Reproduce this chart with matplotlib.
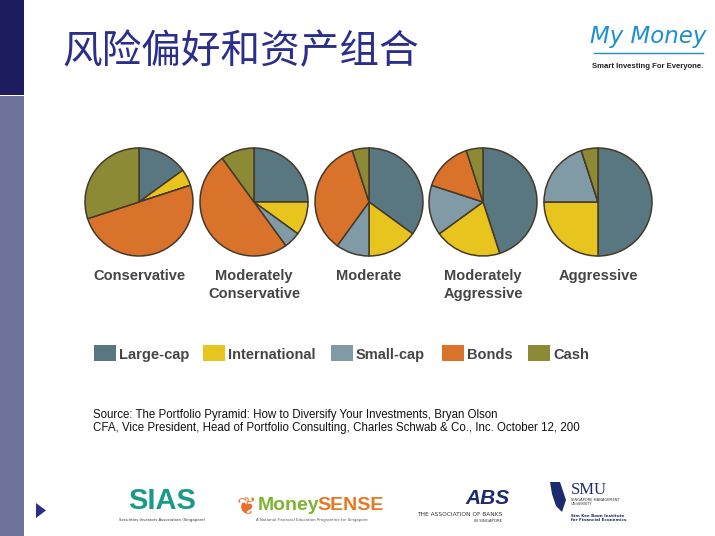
import matplotlib
matplotlib.use("Agg")
import matplotlib.pyplot as plt
from matplotlib.patches import Rectangle, Polygon

# asset classes and model portfolios (percent allocation)
categories = ["Large-cap", "International", "Small-cap", "Bonds", "Cash"]
colors = ["#597780", "#e8c41e", "#819ba6", "#d9722b", "#8d8a35"]
portfolios = ["Conservative", "Moderately\nConservative", "Moderate",
              "Moderately\nAggressive", "Aggressive"]
large_cap = [15, 25, 35, 45, 50]
international = [5, 10, 15, 20, 25]
small_cap = [0, 5, 10, 15, 20]
bonds = [50, 50, 35, 15, 0]
cash = [30, 10, 5, 5, 5]

title = "风险偏好和资产组合"
source = ["Source: The Portfolio Pyramid: How to Diversify Your Investments, Bryan Olson",
          "CFA, Vice President, Head of Portfolio Consulting, Charles Schwab & Co., Inc. October 12, 200"]

W, H = 715, 536
fig = plt.figure(figsize=(W / 100, H / 100), dpi=100)
ax = fig.add_axes([0, 0, 1, 1])


def Y(y):
    # pixel row from top -> data y
    return H - y


# left side bar
ax.add_patch(Rectangle((0, Y(95)), 24, 95, color="#1c1c5e", lw=0))
ax.add_patch(Rectangle((0, 0), 24, H - 96, color="#6e7499", lw=0))

ax.text(62, Y(52), title, fontsize=28.5, color="#2b2e8c", va="center", ha="left",
        family=["Noto Sans CJK SC", "DejaVu Sans"])

# My Money logo
ax.text(648, Y(37), "My Money", fontsize=16.5, color="#1e8fd0", style="italic",
        ha="center", va="center", family=["DejaVu Sans"])
ax.plot([594, 703], [Y(53), Y(53)], color="#1e8fd0", lw=1)
ax.text(648, Y(67), "Smart Investing For Everyone.", fontsize=5.6, color="#222222",
        ha="center", va="center", fontweight="bold", family=["Liberation Sans"])

# pies
centers = [139, 254, 369, 483, 598]
for i, name in enumerate(portfolios):
    vals = [large_cap[i], international[i], small_cap[i], bonds[i], cash[i]]
    ax.pie(vals, colors=colors, startangle=90, counterclock=False,
           center=(centers[i], Y(202)), radius=54,
           wedgeprops=dict(edgecolor="#45392a", linewidth=1.1))
    for j, line in enumerate(name.split("\n")):
        ax.text(centers[i], Y(276 + j * 18), line, fontsize=10.5, fontweight="bold",
                color="#454545", ha="center", va="center", family=["Liberation Sans"])

# legend
legend_x = [94, 203, 331, 442, 528]
for x, lab, c in zip(legend_x, categories, colors):
    ax.add_patch(Rectangle((x, Y(361)), 22, 16, color=c, lw=0))
    ax.text(x + 25, Y(355), lab, fontsize=10.5, fontweight="bold", color="#454545",
            ha="left", va="center", family=["Liberation Sans"])

for k, line in enumerate(source):
    ax.text(93, Y(415 + k * 13), line, fontsize=8.3, color="#111111",
            ha="left", va="center", family=["Liberation Sans"])

# footer
ax.add_patch(Polygon([[36, Y(503)], [36, Y(518)], [46, Y(510.5)]], color="#2b2e8c", lw=0))

ax.text(162, Y(501), "SIAS", fontsize=21, fontweight="bold", color="#1a9a8a",
        ha="center", va="center", family=["Liberation Sans"])
ax.text(162, Y(520), "Securities Investors Association (Singapore)", fontsize=2.8,
        color="#333333", ha="center", va="center")

ax.text(258, Y(505), "Money", fontsize=14, fontweight="bold", color="#7cb530",
        ha="left", va="center", family=["Liberation Sans"])
ax.text(317, Y(505), "SENSE", fontsize=14, fontweight="bold", color="#e87722",
        ha="left", va="center", family=["Liberation Sans"])
ax.text(312, Y(520), "A National Financial Education Programme for Singapore", fontsize=2.8,
        color="#555555", ha="center", va="center")
ax.text(246, Y(507), "❦", fontsize=17, color="#e8702a", ha="center", va="center",
        family=["DejaVu Sans"])

ax.text(487, Y(498), "ABS", fontsize=15, fontweight="bold", style="italic", color="#1c2a6e",
        ha="center", va="center", family=["Liberation Sans"])
ax.text(460, Y(515), "THE ASSOCIATION OF BANKS", fontsize=4.2, color="#333333",
        ha="center", va="center")
ax.text(488, Y(521), "IN SINGAPORE", fontsize=2.8, color="#333333",
        ha="center", va="center")

ax.add_patch(Polygon([[550, Y(482)], [560, Y(482)], [566, Y(500)], [562, Y(512)],
                      [556, Y(506)], [552, Y(494)]], color="#1c2a6e", lw=0))
ax.text(571, Y(490), "SMU", fontsize=12, color="#1c2a6e", ha="left", va="center",
        family=["Liberation Serif"])
ax.text(571, Y(502), "SINGAPORE MANAGEMENT\nUNIVERSITY", fontsize=2.6, color="#333333",
        ha="left", va="center", linespacing=1.1)
ax.text(571, Y(518), "Sim Kee Boon Institute\nfor Financial Economics", fontsize=3,
        color="#1c2a6e", ha="left", va="center", fontweight="bold", linespacing=1.2)

ax.set_xlim(0, W)
ax.set_ylim(0, H)
ax.set_aspect("equal")
ax.axis("off")

fig.savefig("out.png", dpi=100, facecolor="white")
